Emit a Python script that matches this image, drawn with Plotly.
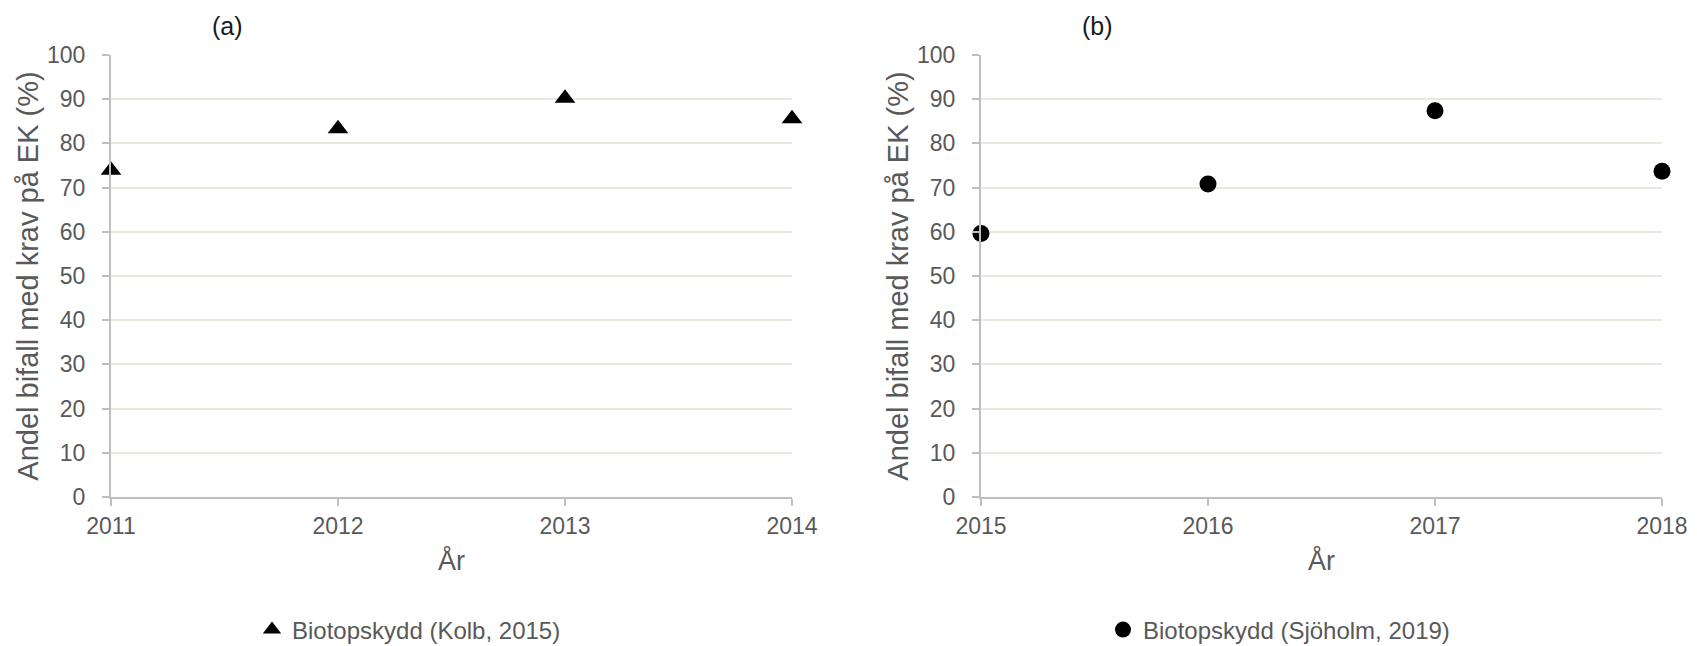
import plotly.graph_objects as go

# Data
years_a = [2011, 2012, 2013, 2014]
values_a = [73.9, 83.3, 90.2, 85.6]
years_b = [2015, 2016, 2017, 2018]
values_b = [59.6, 70.8, 87.4, 73.7]
name_a = "Biotopskydd (Kolb, 2015)"
name_b = "Biotopskydd (Sjöholm, 2019)"
y_title = "Andel bifall med krav på EK (%)"
x_title = "År"
panel_labels = ["(a)", "(b)"]

W, H = 1697, 646
FONT = "Arial, Liberation Sans, sans-serif"
TXT = "#595959"
AX = "#bfbfbf"
GRID = "#ebe8df"

fig = go.Figure()
fig.add_trace(go.Scatter(x=years_a, y=values_a, mode="markers", name=name_a,
                         marker=dict(symbol="triangle-up", size=18, color="black"),
                         cliponaxis=False, xaxis="x", yaxis="y", legend="legend"))
fig.add_trace(go.Scatter(x=years_b, y=values_b, mode="markers", name=name_b,
                         marker=dict(symbol="circle", size=17, color="black"),
                         cliponaxis=False, xaxis="x2", yaxis="y2", legend="legend2"))

def px_x(p):
    return p / W

def px_y(p):
    return (H - p) / H

ydom = [px_y(497), px_y(55)]

def xaxis(dom, rng, anchor):
    return dict(domain=dom, range=rng, anchor=anchor, automargin=False,
                tickmode="array", tickvals=list(range(rng[0], rng[1] + 1)),
                showline=True, linecolor=AX, linewidth=2, ticks="outside", ticklen=7, tickcolor=AX, tickwidth=1.5,
                showgrid=False, zeroline=False, ticklabelstandoff=0,
                tickfont=dict(family=FONT, size=23, color=TXT),
                title=dict(text=x_title, font=dict(family=FONT, size=27, color=TXT), standoff=14))

def yaxis(anchor):
    return dict(domain=ydom, range=[0, 100], anchor=anchor, automargin=False, dtick=10, tick0=0,
                showline=True, linecolor=AX, linewidth=2, ticks="outside", ticklen=7, tickcolor=AX, tickwidth=1.5,
                showgrid=True, gridcolor=GRID, gridwidth=1.5, zeroline=False, ticklabelstandoff=12,
                tickfont=dict(family=FONT, size=23, color=TXT),
                title=dict(text=y_title, font=dict(family=FONT, size=29, color=TXT), standoff=0))

fig.update_layout(
    template="none",
    width=W, height=H,
    margin=dict(l=0, r=0, t=0, b=0, autoexpand=False),
    paper_bgcolor="white", plot_bgcolor="white",
    xaxis=xaxis([px_x(111), px_x(792)], [2011, 2014], "y"),
    yaxis=yaxis("x"),
    xaxis2=xaxis([px_x(981), px_x(1662)], [2015, 2018], "y2"),
    yaxis2=yaxis("x2"),
    legend=dict(x=px_x(252), y=px_y(630), xanchor="left", yanchor="middle",
                font=dict(family=FONT, size=24, color=TXT), bgcolor="rgba(0,0,0,0)"),
    legend2=dict(x=px_x(1103), y=px_y(630), xanchor="left", yanchor="middle",
                 font=dict(family=FONT, size=24, color=TXT), bgcolor="rgba(0,0,0,0)"),
    showlegend=True,
    annotations=[
        dict(text=panel_labels[0], x=px_x(227), y=px_y(26), xref="paper", yref="paper",
             showarrow=False, xanchor="center", yanchor="middle",
             font=dict(family=FONT, size=25, color="#1a1a1a")),
        dict(text=panel_labels[1], x=px_x(1097), y=px_y(26), xref="paper", yref="paper",
             showarrow=False, xanchor="center", yanchor="middle",
             font=dict(family=FONT, size=25, color="#1a1a1a")),
    ],
)

fig.write_html("out.html", config={"displayModeBar": False},
               post_script="document.body.style.margin='0';document.body.style.overflow='hidden';")
